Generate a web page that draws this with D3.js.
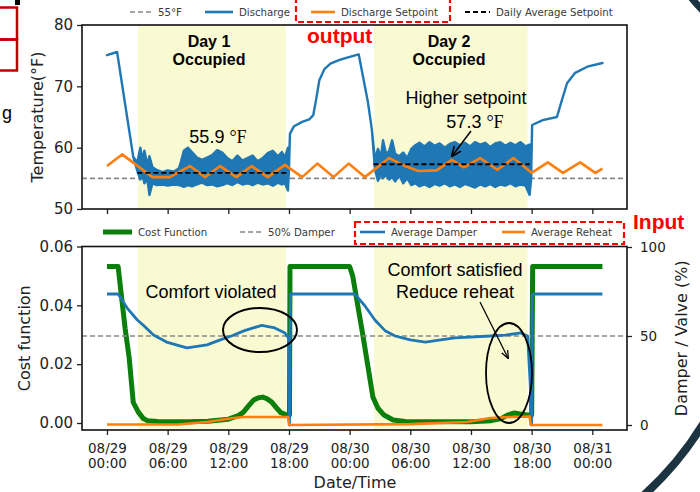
<!DOCTYPE html>
<html>
<head>
<meta charset="utf-8">
<script src="https://cdn.jsdelivr.net/npm/d3@7"></script>
<style>
  body { margin: 0; background: #fff; }
  svg { display: block; }
  text { font-family: "DejaVu Sans", sans-serif; }
  .ann { font-family: "Liberation Sans", Arial, sans-serif; }
</style>
</head>
<body>
<svg width="700" height="492"></svg>
<script>
// ---- data (hours after 08/29 00:00) ----
const tempTicks = [50, 60, 70, 80];
const costTicks = [0, 0.02, 0.04, 0.06];
const pctTicks = [0, 50, 100];

const occupiedStart = [3.05, 26.4];
const occupiedEnd = [17.7, 41.6];

// discharge temperature, drawn as min/max envelope (noise band while occupied)
const dischargeHours = [0, 1.0, 2.6, 3.0, 3.3, 3.5, 3.7, 4.0, 4.2, 4.5, 4.9, 5.5, 6.0, 6.6, 7.1, 7.3, 7.6, 8.0, 8.4, 8.9,
  9.4, 9.9, 10.4, 10.9, 11.4, 11.9, 12.4, 12.9, 13.4, 13.9, 14.4, 14.9, 15.4, 15.9, 16.4, 16.9, 17.3, 17.6, 17.9, 18.0,
  18.1, 18.5, 19.3, 20.0, 20.4, 20.7, 21.0, 21.5, 22.1, 23.0, 24.0, 24.9, 25.8, 26.2, 26.5,
  26.8, 27.1, 27.3, 27.6, 27.9, 28.2, 28.5, 28.9, 29.3, 29.7, 30.1, 30.5, 30.9, 31.4, 31.9, 32.4, 32.9, 33.4, 33.9,
  34.4, 34.9, 35.4, 35.9, 36.4, 36.9, 37.4, 37.9, 38.4, 38.9, 39.4, 39.9, 40.4, 40.9, 41.4, 41.8, 41.95,
  42.05, 43.1, 44.5, 45.0, 45.5, 46.3, 47.5, 49.0];
const dischargeLow = [75.1, 75.6, 58.5, 56.2, 54.8, 55.5, 54.2, 54.8, 52.3, 54.2, 53.9, 54.0, 53.8, 54.0, 53.9, 53.8, 53.6, 53.9, 53.7, 54.0,
  54.3, 53.9, 54.0, 53.7, 53.9, 54.2, 53.9, 54.4, 54.0, 54.2, 53.9, 54.3, 54.0, 54.2, 53.8, 54.3, 54.0, 54.2, 53.0, 56.5,
  62.3, 63.5, 64.2, 64.6, 65.3, 68.0, 71.0, 72.8, 73.7, 74.3, 74.8, 75.2, 67.5, 62.9, 56.5,
  54.6, 55.8, 55.0, 55.6, 54.8, 55.2, 54.5, 55.5, 54.2, 55.0, 53.9, 54.2, 53.7, 54.0, 53.6, 54.1, 53.8, 54.2, 53.7,
  54.0, 53.6, 54.1, 53.8, 53.5, 54.0, 53.7, 54.1, 53.6, 54.0, 53.8, 54.2, 53.7, 54.0, 53.8, 52.3, 55.0,
  63.7, 64.5, 65.0, 67.8, 70.5, 72.2, 73.2, 73.8];
const dischargeHigh = [75.1, 75.6, 58.5, 57.6, 60.0, 58.0, 59.5, 57.2, 58.6, 56.8, 56.4, 56.0, 56.3, 56.1, 56.6, 57.6, 59.5, 60.0, 59.3, 58.4,
  58.0, 58.4, 58.8, 59.6, 59.2, 58.3, 57.8, 58.7, 57.9, 58.3, 58.7, 57.8, 58.3, 59.1, 59.5, 58.6, 59.3, 58.4, 60.0, 57.5,
  62.3, 63.5, 64.2, 64.6, 65.3, 68.0, 71.0, 72.8, 73.7, 74.3, 74.8, 75.2, 67.5, 62.9, 58.0,
  59.8, 58.5, 61.2, 59.0, 59.4, 61.2, 59.0, 58.6, 59.2, 58.3, 59.8, 60.4, 60.8, 60.2, 60.9, 60.3, 60.7, 60.0, 60.6,
  60.9, 60.4, 60.8, 60.2, 60.9, 60.5, 60.8, 60.1, 60.7, 60.9, 60.3, 60.8, 60.4, 60.9, 60.2, 60.5, 57.0,
  63.7, 64.5, 65.0, 67.8, 70.5, 72.2, 73.2, 73.8];

const setpointHours = [0, 1.5, 4.5, 6.2, 8.2, 9.7, 11.2, 12.8, 14.3, 15.9, 17.6, 19.3, 20.8, 22.4, 23.9, 25.5,
  27.9, 29.5, 30.8, 32.6, 34.1, 35.3, 36.9, 38.6, 40.2, 42.0, 43.6, 45.1, 46.8, 48.3, 49.0];
const setpointTemp = [57.0, 58.9, 55.2, 55.2, 57.0, 55.2, 57.0, 55.2, 57.0, 55.2, 57.2, 55.2, 57.4, 55.2, 57.4, 55.2,
  58.3, 57.0, 56.2, 56.3, 58.0, 56.8, 58.3, 56.4, 58.3, 55.9, 57.6, 55.9, 57.6, 55.9, 56.6];

const dailyAvgValues = [55.9, 57.3];
const lowLimitTemp = 55;

const costHours = [0, 1.1, 1.8, 2.2, 2.6, 3.1, 3.6, 4.0, 5.0, 8.0, 10.0, 12.0, 13.0, 13.5, 14.0, 14.5, 15.0, 15.4, 15.8,
  16.3, 16.8, 17.2, 17.8, 18.05, 18.1, 24.0, 24.3, 25.3, 26.3, 26.8, 27.4, 28.3, 29.5, 36.0, 38.0, 39.0, 39.6, 40.3,
  41.0, 41.6, 42.0, 42.1, 49.0];
const costValues = [0.0532, 0.0532, 0.032, 0.022, 0.007, 0.0037, 0.0015, 0.0008, 0.0005, 0.0004, 0.0006, 0.0013, 0.0025,
  0.0037, 0.0058, 0.0078, 0.0086, 0.0088, 0.0083, 0.0071, 0.005, 0.0035, 0.0027, 0.0027, 0.0532, 0.0532, 0.05, 0.03,
  0.0088, 0.005, 0.0027, 0.001, 0.0005, 0.0004, 0.0008, 0.0015, 0.0027, 0.0034, 0.003, 0.0027, 0.0027, 0.0532, 0.0532];

const damperHours = [0, 1.1, 2.0, 3.0, 3.6, 4.6, 5.9, 7.9, 9.9, 11.2, 12.3, 13.6, 15.3, 16.6, 17.6, 18.0, 18.05, 18.15,
  24.5, 25.5, 26.5, 27.5, 28.5, 30.0, 31.5, 33.0, 34.4, 35.9, 37.9, 39.4, 40.9, 41.6, 41.85, 42.0, 42.05, 49.0];
const damperPct = [73.6, 73.6, 65.7, 59.0, 56.0, 50.5, 46.6, 43.3, 45.0, 47.8, 50.0, 53.0, 56.0, 54.5, 51.7, 48.5, 0, 73.6,
  73.6, 67.0, 59.0, 53.0, 50.0, 47.8, 46.6, 47.8, 49.0, 49.4, 50.0, 50.5, 51.7, 50.0, 24.0, 0, 73.6, 73.6];

const reheatHours = [0, 7.0, 9.9, 12.5, 13.5, 17.9, 18.0, 30.0, 35.6, 37.9, 39.9, 41.8, 41.9, 49.0];
const reheatPct = [0.3, 0.3, 1.7, 3.9, 4.5, 4.5, 0, 0.5, 1.7, 3.9, 4.5, 4.8, 0, 0];

const damperRef = 50;

// ---- setup ----
const svg = d3.select('svg');
const base = Date.UTC(2020, 7, 29);
const t = h => new Date(base + h * 3600e3);

const blue = '#1f77b4', orange = '#ff7f0e', green = '#0b7f0b', yellow = '#fafad2';

const left = 82, right = 627;
const top1 = 25, bottom1 = 209;
const top2 = 246.5, bottom2 = 430;

const x = d3.scaleUtc().domain([t(-2.47), t(51.43)]).range([left, right]);
const yTemp = d3.scaleLinear().domain([50, 80]).range([bottom1, top1]);
const yCost = d3.scaleLinear().domain([0, 0.06]).range([423, top2]);
const yPct = d3.scaleLinear().domain([0, 100]).range([425, 247]);

// ---- occupied shading ----
[[top1, bottom1], [top2, bottom2]].forEach(([a, b]) => {
  svg.append('g').selectAll('rect').data(occupiedStart).enter().append('rect')
    .attr('x', (d, i) => x(t(d)))
    .attr('width', (d, i) => x(t(occupiedEnd[i])) - x(t(d)))
    .attr('y', a).attr('height', b - a)
    .attr('fill', yellow);
});

// ---- top panel ----
let g1 = svg.append('g');
g1.append('line')
  .attr('x1', left).attr('x2', right)
  .attr('y1', yTemp(lowLimitTemp)).attr('y2', yTemp(lowLimitTemp))
  .attr('stroke', '#888').attr('stroke-width', 1.6).attr('stroke-dasharray', '5,3');

let discharge = dischargeHours.map((h, i) => ({h: h, lo: dischargeLow[i], hi: dischargeHigh[i]}));
g1.append('path').datum(discharge)
  .attr('d', d3.area().x(d => x(t(d.h))).y0(d => yTemp(d.lo)).y1(d => yTemp(d.hi)))
  .attr('fill', blue).attr('stroke', blue).attr('stroke-width', 2.4).attr('stroke-linejoin', 'round');

g1.append('path').datum(setpointHours.map((h, i) => [h, setpointTemp[i]]))
  .attr('d', d3.line().x(d => x(t(d[0]))).y(d => yTemp(d[1])))
  .attr('fill', 'none').attr('stroke', orange).attr('stroke-width', 2.6).attr('stroke-linejoin', 'round');

g1.selectAll('.avg').data(dailyAvgValues).enter().append('line')
  .attr('x1', (d, i) => x(t(occupiedStart[i] - 0.05)))
  .attr('x2', (d, i) => x(t(occupiedEnd[i] + 0.2)))
  .attr('y1', d => yTemp(d)).attr('y2', d => yTemp(d))
  .attr('stroke', '#000').attr('stroke-width', 1.8).attr('stroke-dasharray', '5,3');

// axes top
let ay1 = svg.append('g').attr('transform', `translate(${left},0)`)
  .call(d3.axisLeft(yTemp).tickValues(tempTicks).tickSize(5).tickPadding(4));
ay1.selectAll('text').attr('font-size', 15).attr('fill', '#222').attr('font-family', '"DejaVu Sans"');
let ax1 = svg.append('g').attr('transform', `translate(0,${bottom1})`)
  .call(d3.axisBottom(x).ticks(d3.utcHour.every(6)).tickSize(5).tickFormat(''));
[ay1, ax1].forEach(a => { a.select('.domain').remove(); a.selectAll('line').attr('stroke', '#222').attr('stroke-width', 1.3); });

svg.append('rect').attr('x', left).attr('y', top1).attr('width', right - left).attr('height', bottom1 - top1)
  .attr('fill', 'none').attr('stroke', '#111').attr('stroke-width', 1.6);

svg.append('text').attr('transform', `translate(43,${(top1 + bottom1) / 2}) rotate(-90)`)
  .attr('text-anchor', 'middle').attr('font-size', 16).attr('fill', '#222').text('Temperature(°F)');

// ---- bottom panel ----
let g2 = svg.append('g');
g2.append('path').datum(costHours.map((h, i) => [h, costValues[i]]))
  .attr('d', d3.line().x(d => x(t(d[0]))).y(d => yCost(d[1])))
  .attr('fill', 'none').attr('stroke', green).attr('stroke-width', 5).attr('stroke-linejoin', 'round');

g2.append('line')
  .attr('x1', left).attr('x2', right)
  .attr('y1', yPct(damperRef)).attr('y2', yPct(damperRef))
  .attr('stroke', '#888').attr('stroke-width', 1.6).attr('stroke-dasharray', '5,3');

g2.append('path').datum(damperHours.map((h, i) => [h, damperPct[i]]))
  .attr('d', d3.line().x(d => x(t(d[0]))).y(d => yPct(d[1])))
  .attr('fill', 'none').attr('stroke', blue).attr('stroke-width', 2.8).attr('stroke-linejoin', 'round');

g2.append('path').datum(reheatHours.map((h, i) => [h, reheatPct[i]]))
  .attr('d', d3.line().x(d => x(t(d[0]))).y(d => yPct(d[1])))
  .attr('fill', 'none').attr('stroke', orange).attr('stroke-width', 2.6).attr('stroke-linejoin', 'round');

let ay2 = svg.append('g').attr('transform', `translate(${left},0)`)
  .call(d3.axisLeft(yCost).tickValues(costTicks).tickSize(5).tickPadding(4).tickFormat(d3.format('.2f')));
ay2.selectAll('text').attr('font-size', 15).attr('fill', '#222');
let ay3 = svg.append('g').attr('transform', `translate(${right},0)`)
  .call(d3.axisRight(yPct).tickValues(pctTicks).tickSize(5).tickPadding(8));
ay3.selectAll('text').attr('font-size', 13.5).attr('fill', '#222');
let ax2 = svg.append('g').attr('transform', `translate(0,${bottom2})`)
  .call(d3.axisBottom(x).ticks(d3.utcHour.every(6)).tickSize(5).tickFormat(d3.utcFormat('%m/%d|%H:%M')));
ax2.selectAll('.tick text').each(function(d) {
  let el = d3.select(this);
  let parts = el.text().split('|');
  el.text(null).attr('y', null).attr('dy', null).attr('font-size', 13.5).attr('fill', '#222');
  parts.forEach((p, i) => el.append('tspan').attr('x', 0).attr('y', 23 + i * 15).text(p));
});
[ay2, ay3, ax2].forEach(a => { a.select('.domain').remove(); a.selectAll('line').attr('stroke', '#222').attr('stroke-width', 1.3); });

svg.append('rect').attr('x', left).attr('y', top2).attr('width', right - left).attr('height', bottom2 - top2)
  .attr('fill', 'none').attr('stroke', '#111').attr('stroke-width', 1.6);

svg.append('text').attr('transform', `translate(30,${(top2 + bottom2) / 2}) rotate(-90)`)
  .attr('text-anchor', 'middle').attr('font-size', 16).attr('fill', '#222').text('Cost function');
svg.append('text').attr('transform', `translate(687,${(top2 + bottom2) / 2}) rotate(-90)`)
  .attr('text-anchor', 'middle').attr('font-size', 16).attr('fill', '#222').text('Damper / Valve (%)');
svg.append('text').attr('x', 355).attr('y', 488).attr('text-anchor', 'middle')
  .attr('font-size', 16).attr('fill', '#222').text('Date/Time');

// ---- legends ----
const legendTop = [
  {x: 130, w: 22, label: '55°F', color: '#888', dash: '5,3', sw: 1.6},
  {x: 205, w: 28, label: 'Discharge', color: blue, dash: null, sw: 2.6},
  {x: 311, w: 24, label: 'Discharge Setpoint', color: orange, dash: null, sw: 2.6},
  {x: 465, w: 25, label: 'Daily Average Setpoint', color: '#000', dash: '5,3', sw: 1.8}
];
const legendBottom = [
  {x: 103, w: 29, label: 'Cost Function', color: green, dash: null, sw: 5},
  {x: 240, w: 22, label: '50% Damper', color: '#888', dash: '5,3', sw: 1.6},
  {x: 360, w: 25, label: 'Average Damper', color: blue, dash: null, sw: 2.6},
  {x: 502, w: 23, label: 'Average Reheat', color: orange, dash: null, sw: 2.6}
];
function legend(items, y) {
  let lg = svg.append('g').selectAll('g').data(items).enter().append('g');
  lg.append('line').attr('x1', d => d.x).attr('x2', d => d.x + d.w).attr('y1', y).attr('y2', y)
    .attr('stroke', d => d.color).attr('stroke-width', d => d.sw).attr('stroke-dasharray', d => d.dash);
  lg.append('text').attr('x', d => d.x + d.w + 6).attr('y', y + 3.8)
    .attr('font-size', 10.2).attr('fill', '#3a3a3a').text(d => d.label);
}
legend(legendTop, 12);
legend(legendBottom, 232);

// red dashed boxes and labels
svg.append('rect').attr('x', 296).attr('y', -2).attr('width', 154).attr('height', 24)
  .attr('fill', 'none').attr('stroke', '#f00').attr('stroke-width', 2.2).attr('stroke-dasharray', '6,3');
svg.append('rect').attr('x', 355).attr('y', 222).attr('width', 269).attr('height', 22)
  .attr('fill', 'none').attr('stroke', '#f00').attr('stroke-width', 2.2).attr('stroke-dasharray', '6,3');
svg.append('text').attr('class', 'ann').attr('x', 307).attr('y', 43).attr('font-size', 21)
  .attr('font-weight', 'bold').attr('fill', '#f00').text('output');
svg.append('text').attr('class', 'ann').attr('x', 633).attr('y', 229).attr('font-size', 21)
  .attr('font-weight', 'bold').attr('fill', '#f00').text('Input');

// ---- annotations ----
const ann = (tx, ty, txt, size, weight) => svg.append('text').attr('class', 'ann')
  .attr('x', tx).attr('y', ty).attr('text-anchor', 'middle')
  .attr('font-size', size).attr('font-weight', weight || 'normal').attr('fill', '#000').text(txt);

ann(209, 47, 'Day 1', 16, 'bold');
ann(209, 65, 'Occupied', 16, 'bold');
ann(449, 47, 'Day 2', 16, 'bold');
ann(449, 65, 'Occupied', 16, 'bold');
ann(466, 104, 'Higher setpoint', 18);
ann(211, 298, 'Comfort violated', 18);
ann(455, 276, 'Comfort satisfied', 18);
ann(455, 298, 'Reduce reheat', 18);

[[218, 143, '55.9'], [475, 128, '57.3']].forEach(([tx, ty, v]) => {
  let tt = svg.append('text').attr('class', 'ann').attr('x', tx).attr('y', ty)
    .attr('text-anchor', 'middle').attr('font-size', 18).attr('fill', '#000');
  tt.append('tspan').text(v + ' ');
  tt.append('tspan').attr('font-family', '"Liberation Serif", serif').text('°F');
});

svg.append('defs').append('marker').attr('id', 'arr').attr('viewBox', '0 0 10 10')
  .attr('refX', 9).attr('refY', 5).attr('markerWidth', 7).attr('markerHeight', 7).attr('orient', 'auto')
  .append('path').attr('d', 'M0,1 L10,5 L0,9').attr('fill', 'none').attr('stroke', '#000').attr('stroke-width', 1.5);

svg.append('line').attr('x1', 471).attr('y1', 131).attr('x2', 452).attr('y2', 156)
  .attr('stroke', '#000').attr('stroke-width', 1.5).attr('marker-end', 'url(#arr)');
svg.append('line').attr('x1', 480).attr('y1', 302).attr('x2', 508).attr('y2', 358)
  .attr('stroke', '#000').attr('stroke-width', 1.2).attr('marker-end', 'url(#arr)');

svg.append('ellipse').attr('cx', 260).attr('cy', 330).attr('rx', 37).attr('ry', 22)
  .attr('fill', 'none').attr('stroke', '#000').attr('stroke-width', 2);
svg.append('ellipse').attr('cx', 509).attr('cy', 373).attr('rx', 23).attr('ry', 50)
  .attr('fill', 'none').attr('stroke', '#000').attr('stroke-width', 1.8);

// ---- slide leftovers at the edges ----
svg.append('rect').attr('x', -10).attr('y', 7.5).attr('width', 27).attr('height', 32)
  .attr('fill', 'none').attr('stroke', '#c00000').attr('stroke-width', 2.5);
svg.append('rect').attr('x', -10).attr('y', 39.5).attr('width', 27).attr('height', 31)
  .attr('fill', 'none').attr('stroke', '#c00000').attr('stroke-width', 2.5);
svg.append('rect').attr('x', 15).attr('y', 0).attr('width', 5).attr('height', 5).attr('fill', '#000');
svg.append('text').attr('class', 'ann').attr('x', 2).attr('y', 119).attr('font-size', 18).attr('fill', '#000').text('g');
svg.append('path').attr('d', 'M714,405 A330,330 0 0 1 635,503')
  .attr('fill', 'none').attr('stroke', '#1c3342').attr('stroke-width', 8);
svg.append('path').attr('d', 'M690,-4 Q697,5 706,14')
  .attr('fill', 'none').attr('stroke', '#1c3342').attr('stroke-width', 7);
</script>
</body>
</html>
